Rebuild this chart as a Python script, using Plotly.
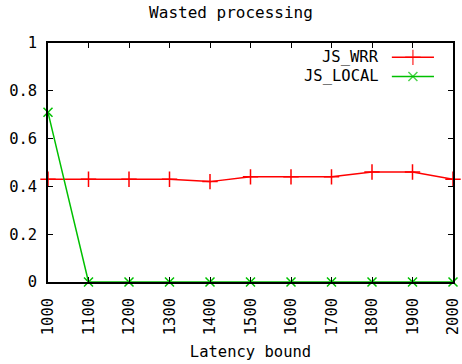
import plotly.graph_objects as go

latency = [1000, 1100, 1200, 1300, 1400, 1500, 1600, 1700, 1800, 1900, 2000]
js_wrr = [0.43, 0.43, 0.43, 0.43, 0.42, 0.44, 0.44, 0.44, 0.46, 0.46, 0.43]
js_local = [0.71, 0, 0, 0, 0, 0, 0, 0, 0, 0, 0]
x_ticks = [1000, 1100, 1200, 1300, 1400, 1500, 1600, 1700, 1800, 1900, 2000]
y_ticks = [0, 0.2, 0.4, 0.6, 0.8, 1]
y_ticklabels = ["0", "0.2", "0.4", "0.6", "0.8", "1"]

RED = "#ff0000"
GREEN = "#00c000"
FONT = "DejaVu Sans Mono"

fig = go.Figure()
fig.add_trace(go.Scatter(
    x=latency, y=js_wrr, mode="lines+markers", name="JS_WRR",
    line=dict(color=RED, width=1.5),
    marker=dict(symbol="cross-thin-open", size=11, line=dict(color=RED, width=1.5)),
    showlegend=False, cliponaxis=False,
))
fig.add_trace(go.Scatter(
    x=latency, y=js_local, mode="lines+markers", name="JS_LOCAL",
    line=dict(color=GREEN, width=1.5),
    marker=dict(symbol="x-thin-open", size=9, line=dict(color=GREEN, width=1.5)),
    showlegend=False, cliponaxis=False,
))

# legend keys drawn gnuplot-style (text then sample) on an overlay axis
legend_names = ["JS_WRR", "JS_LOCAL"]
legend_colors = [RED, GREEN]
legend_symbols = ["cross-thin-open", "x-thin-open"]
legend_sizes = [11, 9]
legend_y = [0.94, 0.86]
for name, col, sym, sz, ly in zip(legend_names, legend_colors, legend_symbols, legend_sizes, legend_y):
    fig.add_trace(go.Scatter(
        x=[0.849, 0.901, 0.953], y=[ly, ly, ly], mode="lines+markers",
        xaxis="x2", yaxis="y2", showlegend=False, hoverinfo="skip",
        line=dict(color=col, width=1.5),
        marker=dict(symbol=sym, size=[0, sz, 0], line=dict(color=col, width=1.5)),
    ))
    fig.add_annotation(
        x=0.823, y=ly, xref="x2", yref="y2", text=name, showarrow=False,
        xanchor="right", yanchor="middle", font=dict(family=FONT, size=15.5, color="#000000"),
    )

fig.update_layout(
    width=462, height=364,
    margin=dict(l=48, r=9, t=43, b=82),
    paper_bgcolor="white", plot_bgcolor="white",
    font=dict(family=FONT, size=15.5, color="#000000"),
    title=dict(text="Wasted processing", x=0.5, xanchor="center", y=0.982, yanchor="top",
               font=dict(family=FONT, size=16)),
    xaxis=dict(
        range=[1000, 2000], tickvals=x_ticks, ticktext=[str(v) for v in x_ticks],
        tickangle=-90, ticks="inside", ticklen=5, tickcolor="#000", tickwidth=1,
        showline=True, linecolor="#000", linewidth=1.5, mirror="allticks",
        showgrid=False, zeroline=False, automargin=False, ticklabelstandoff=8,
        ticklabeloverflow="allow",
        tickfont=dict(family=FONT, size=15.5),
        title=dict(text="Latency bound", standoff=12, font=dict(family=FONT, size=15.5)),
    ),
    yaxis=dict(
        range=[0, 1], tickvals=y_ticks, ticktext=y_ticklabels,
        ticks="inside", ticklen=5, tickcolor="#000", tickwidth=1,
        showline=True, linecolor="#000", linewidth=1.5, mirror="allticks",
        showgrid=False, zeroline=False, automargin=False, ticklabelstandoff=6,
        ticklabeloverflow="allow",
        tickfont=dict(family=FONT, size=15.5),
    ),
    xaxis2=dict(range=[0, 1], overlaying="x", visible=False, fixedrange=True),
    yaxis2=dict(range=[0, 1], overlaying="y", visible=False, fixedrange=True),
)

fig.write_html("out.html")
